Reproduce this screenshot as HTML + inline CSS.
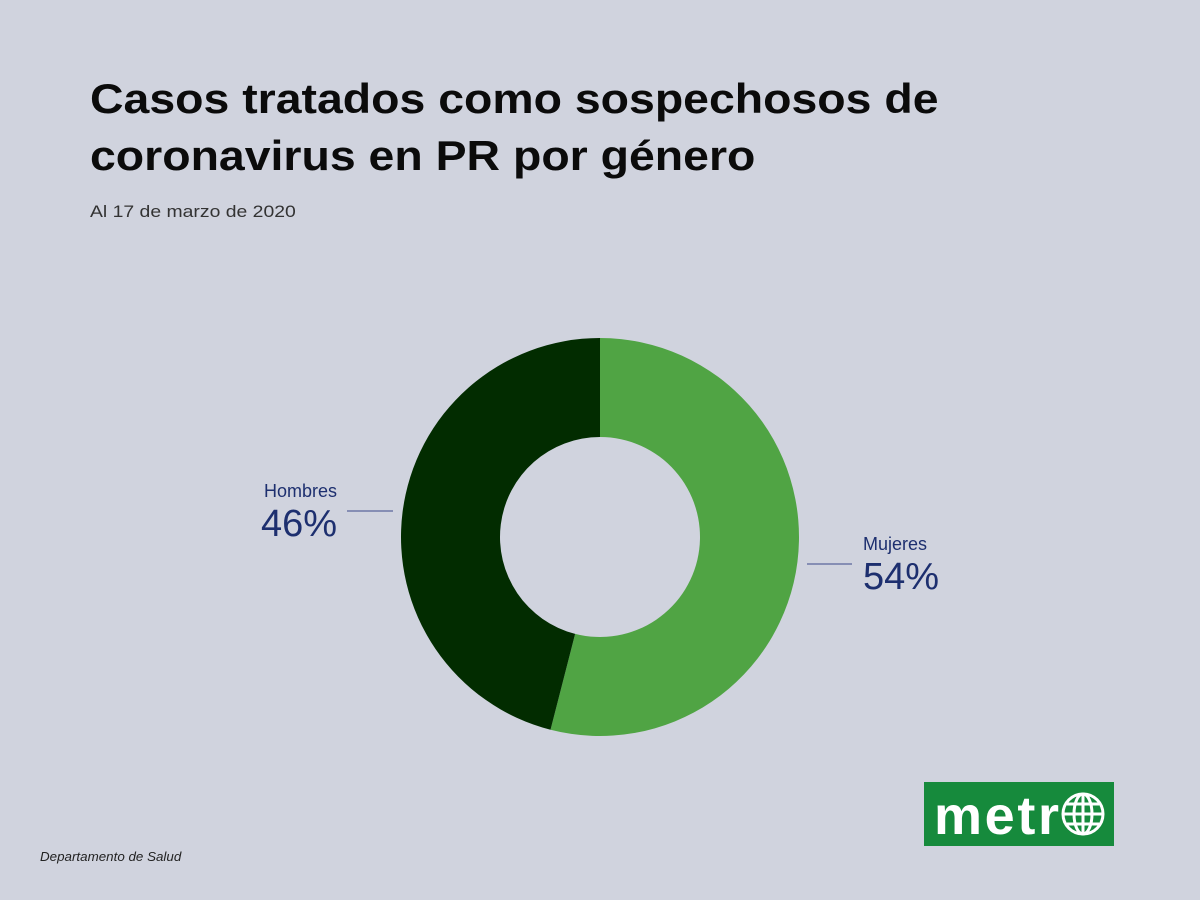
<!DOCTYPE html>
<html><head><meta charset="utf-8"><style>
body{margin:0;width:1200px;height:900px;background:#d0d3de;font-family:"Liberation Sans",sans-serif;position:relative;overflow:hidden}
h1{position:absolute;left:90px;top:70px;margin:0;font-size:42px;line-height:57px;font-weight:bold;color:#0b0b0b;transform:scaleX(1.105);transform-origin:left top;white-space:nowrap}
.sub{position:absolute;left:90px;top:202px;font-size:17px;color:#333;transform:scaleX(1.14);transform-origin:left top;white-space:nowrap}
.src{position:absolute;left:40px;top:850px;font-size:12.5px;font-style:italic;color:#222;transform:scaleX(1.07);transform-origin:left top;white-space:nowrap}
</style></head><body>
<h1>Casos tratados como sospechosos de<br>coronavirus en PR por género</h1>
<div class="sub">Al 17 de marzo de 2020</div>
<svg id="chart" width="1200" height="900" style="position:absolute;left:0;top:0"></svg>
<div class="src">Departamento de Salud</div>
<svg width="190" height="64" style="position:absolute;left:924px;top:782px">
<rect width="190" height="64" fill="#168a3c"/>
<text x="10" y="52" font-family="Liberation Sans" font-weight="bold" font-size="54" fill="#fff" textLength="125">metr</text>
<g fill="none" stroke="#fff" stroke-width="3"><circle cx="159" cy="32" r="20"/><ellipse cx="159" cy="32" rx="9" ry="20"/><line x1="159" y1="12" x2="159" y2="52"/><line x1="139" y1="32" x2="179" y2="32"/><line x1="143" y1="22" x2="175" y2="22"/><line x1="143" y1="42" x2="175" y2="42"/></g>
</svg>
<script>
const categories=["Mujeres","Hombres"];
const values=[54,46];
const colors=["#50a444","#022c00"];
const svg=document.getElementById('chart');
const NS="http://www.w3.org/2000/svg";
const cx=600,cy=537,R=199,r=100;
const total=values.reduce((a,b)=>a+b,0);
function pt(a,rad){return [cx+rad*Math.sin(a),cy-rad*Math.cos(a)];}
let a0=0;
values.forEach((v,i)=>{
 const a1=a0+v/total*2*Math.PI, large=(a1-a0)>Math.PI?1:0;
 const [x0,y0]=pt(a0,R),[x1,y1]=pt(a1,R),[x2,y2]=pt(a1,r),[x3,y3]=pt(a0,r);
 const p=document.createElementNS(NS,'path');
 p.setAttribute('d',`M${x0},${y0}A${R},${R} 0 ${large} 1 ${x1},${y1}L${x2},${y2}A${r},${r} 0 ${large} 0 ${x3},${y3}Z`);
 p.setAttribute('fill',colors[i]);
 
 
 svg.appendChild(p);
 const mid=(a0+a1)/2, right=Math.sin(mid)>0;
 const ly=cy+(right?27:-26);
 const lx0=right?cx+R+8:cx-R-8, lx1=right?lx0+45:lx0-46;
 const l=document.createElementNS(NS,'line');
 l.setAttribute('x1',lx0);l.setAttribute('x2',lx1);l.setAttribute('y1',ly);l.setAttribute('y2',ly);
 l.setAttribute('stroke','#3b4a8a');l.setAttribute('stroke-width','1');
 
 
 svg.appendChild(l);
 const tx=right?lx1+11:lx1-10, anchor=right?'start':'end';
 const t1=document.createElementNS(NS,'text');
 t1.setAttribute('x',tx);t1.setAttribute('y',ly-14);t1.setAttribute('text-anchor',anchor);
 t1.setAttribute('font-size','18');t1.setAttribute('fill','#1d2f6f');t1.setAttribute('font-family','Liberation Sans');
 t1.textContent=categories[i];
 
 
 svg.appendChild(t1);
 const t2=document.createElementNS(NS,'text');
 t2.setAttribute('x',tx);t2.setAttribute('y',ly+25);t2.setAttribute('text-anchor',anchor);
 t2.setAttribute('font-size','38');t2.setAttribute('fill','#1d2f6f');t2.setAttribute('font-family','Liberation Sans');
 t2.textContent=v+'%';
 
 
 svg.appendChild(t2);
 a0=a1;
});
</script>
</body></html>
